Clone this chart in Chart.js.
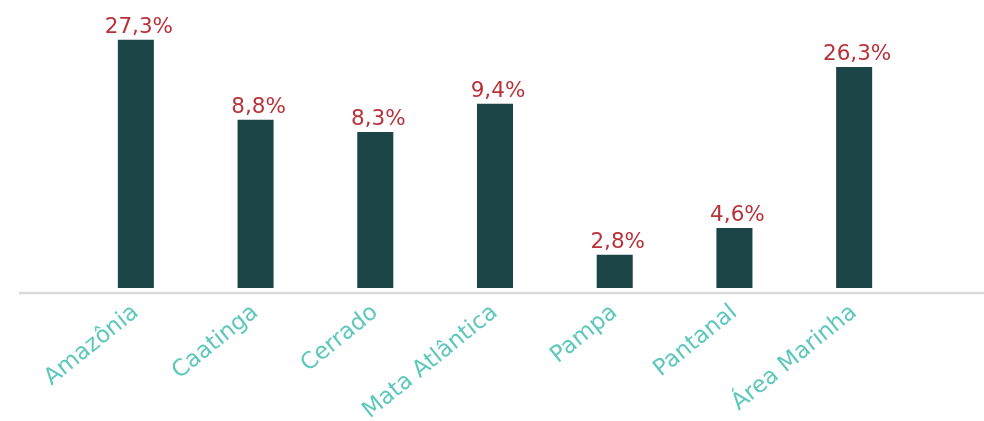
<!DOCTYPE html>
<html>
<head>
<meta charset="utf-8">
<script src="https://cdn.jsdelivr.net/npm/chart.js@4/dist/chart.umd.min.js"></script>
<style>
html,body{margin:0;padding:0;background:#fff;}
#wrap{width:984px;height:421px;position:relative;}
</style>
</head>
<body>
<div id="wrap"><canvas id="c"></canvas></div>
<script>
// Categories (biomes)
const categories = ["Amazônia", "Caatinga", "Cerrado", "Mata Atlântica", "Pampa", "Pantanal", "Área Marinha"];
// Bar heights (relative index, Amazônia = 100)
const barValues = [100, 67.8, 62.8, 74.2, 13.4, 24.2, 89.0];
// Value labels shown above the bars
const valueLabels = ["27,3%", "8,8%", "8,3%", "9,4%", "2,8%", "4,6%", "26,3%"];

const FONT = "'DejaVu Sans', Verdana, sans-serif";

const valueLabelPlugin = {
  id: 'valueLabels',
  afterDatasetsDraw(chart) {
    const ctx = chart.ctx;
    const meta = chart.getDatasetMeta(0);
    ctx.save();
    ctx.font = "21.5px " + FONT;
    ctx.fillStyle = "#b8323a";
    ctx.textAlign = "center";
    ctx.textBaseline = "alphabetic";
    meta.data.forEach((bar, i) => {
      ctx.fillText(valueLabels[i], bar.x + 3, bar.y - 7);
    });
    ctx.restore();
  }
};

const axisLinePlugin = {
  id: 'axisLine',
  beforeDatasetsDraw(chart) {
    const ctx = chart.ctx;
    const y = chart.scales.y.getPixelForValue(chart.scales.y.min);
    ctx.save();
    ctx.strokeStyle = "#d9d9d9";
    ctx.lineWidth = 2.5;
    ctx.beginPath();
    ctx.moveTo(19, y);
    ctx.lineTo(chart.width, y);
    ctx.stroke();
    ctx.restore();
  }
};

new Chart(document.getElementById('c'), {
  type: 'bar',
  data: {
    labels: categories,
    datasets: [{
      data: barValues,
      backgroundColor: "#1c4548",
      borderWidth: 0,
      barPercentage: 0.301,
      categoryPercentage: 1.0
    }]
  },
  options: {
    responsive: true,
    maintainAspectRatio: false,
    animation: false,
    events: [],
    layout: { padding: { left: 76, right: 70, top: 0, bottom: 0 } },
    plugins: { legend: { display: false }, tooltip: { enabled: false } },
    scales: {
      x: {
        grid: { display: false, drawTicks: false },
        border: { display: false },
        ticks: {
          color: "#5cc8bd",
          font: { family: FONT, size: 23 },
          minRotation: 39,
          maxRotation: 39,
          autoSkip: false,
          padding: 6
        },
        afterFit(scale) { scale.height = 128; }
      },
      y: {
        display: false,
        min: -2.0,
        max: 116
      }
    }
  },
  plugins: [valueLabelPlugin, axisLinePlugin]
});
</script>
</body>
</html>
